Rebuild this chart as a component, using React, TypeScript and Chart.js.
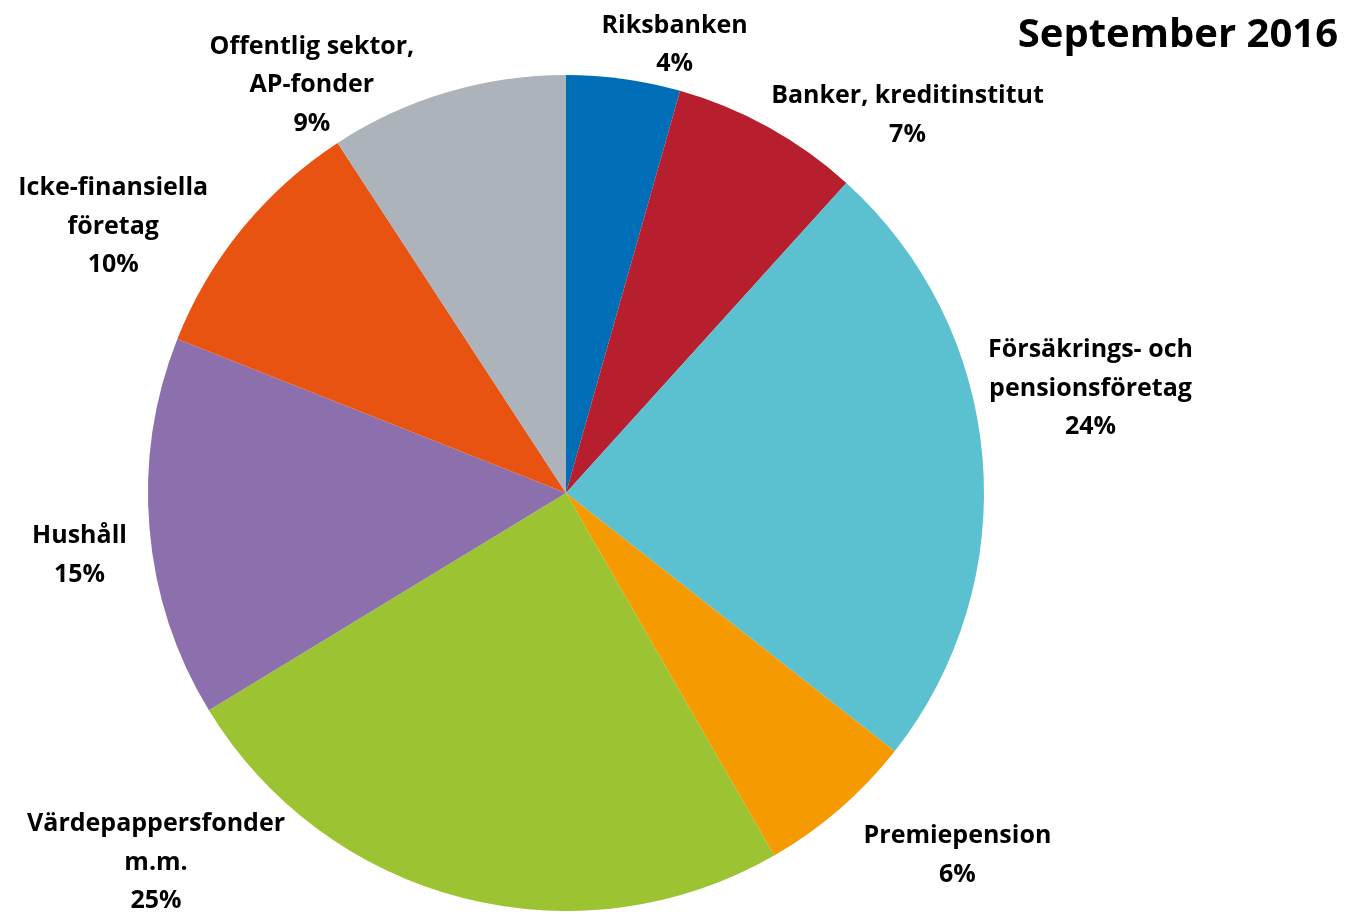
import React, { useEffect, useRef } from "react";
import { Chart, registerables } from "chart.js";

Chart.register(...registerables);

const categories: string[][] = [
  ["Riksbanken"],
  ["Banker, kreditinstitut"],
  ["Försäkrings- och", "pensionsföretag"],
  ["Premiepension"],
  ["Värdepappersfonder", "m.m."],
  ["Hushåll"],
  ["Icke-finansiella", "företag"],
  ["Offentlig sektor,", "AP-fonder"],
];
const shares: number[] = [4.4, 7.3, 23.9, 6.1, 24.6, 14.7, 9.8, 9.2];
const colors: string[] = [
  "#006eb6",
  "#b71f2e",
  "#5bc0cf",
  "#f59a00",
  "#9bc332",
  "#8c70ae",
  "#e85311",
  "#adb3bb",
];
const title = "September 2016";

// label offsets from the arc edge at the slice's mid-angle (px)
const labelOffsets: [number, number][] = [
  [51, -35],
  [139, -13],
  [108, -70],
  [118, 45],
  [-306, -36],
  [-70, 26],
  [-129, -3],
  [-135, -8],
];

const FONT = "'Open Sans', Lato, sans-serif";

const labelPlugin = {
  id: "sliceLabels",
  afterDraw(chart: any) {
    const ctx = chart.ctx;
    const meta = chart.getDatasetMeta(0);
    const data = chart.data.datasets[0].data as number[];
    const total = data.reduce((a, b) => a + b, 0);
    ctx.save();
    ctx.fillStyle = "#000";
    ctx.textAlign = "center";
    ctx.textBaseline = "middle";
    ctx.font = `bold 25px ${FONT}`;
    const lh = 38.5;
    meta.data.forEach((arc: any, i: number) => {
      const { x, y, startAngle, endAngle, outerRadius } = arc.getProps(
        ["x", "y", "startAngle", "endAngle", "outerRadius"],
        true
      );
      const mid = (startAngle + endAngle) / 2;
      const ex = x + Math.cos(mid) * outerRadius;
      const ey = y + Math.sin(mid) * outerRadius;
      const [dx, dy] = labelOffsets[i];
      const lines = [...categories[i], `${Math.round((data[i] / total) * 100)}%`];
      const cx = ex + dx;
      const cy = ey + dy;
      const top = cy - ((lines.length - 1) * lh) / 2;
      lines.forEach((t, j) => ctx.fillText(t, cx, top + j * lh + 1));
    });
    ctx.font = `bold 40px ${FONT}`;
    ctx.textAlign = "right";
    ctx.fillText(title, 1338, 36);
    ctx.restore();
  },
};

export default function App() {
  const ref = useRef<HTMLCanvasElement | null>(null);
  useEffect(() => {
    if (!ref.current) return;
    const chart = new Chart(ref.current, {
      type: "pie",
      data: {
        labels: categories.map((c) => c.join(" ")),
        datasets: [
          {
            data: shares,
            backgroundColor: colors,
            borderWidth: 0,
          },
        ],
      },
      options: {
        animation: false,
        responsive: false,
        maintainAspectRatio: false,
        layout: { padding: { left: 148, right: 363, top: 75, bottom: 3 } },
        plugins: {
          legend: { display: false },
          tooltip: { enabled: false },
          title: { display: false },
        },
      },
      plugins: [labelPlugin],
    });
    return () => chart.destroy();
  }, []);
  return (
    <div style={{ position: "fixed", left: 0, top: 0, width: 1347, height: 914, background: "#fff" }}>
      <canvas ref={ref} width={1347} height={914} style={{ width: 1347, height: 914 }} />
    </div>
  );
}
